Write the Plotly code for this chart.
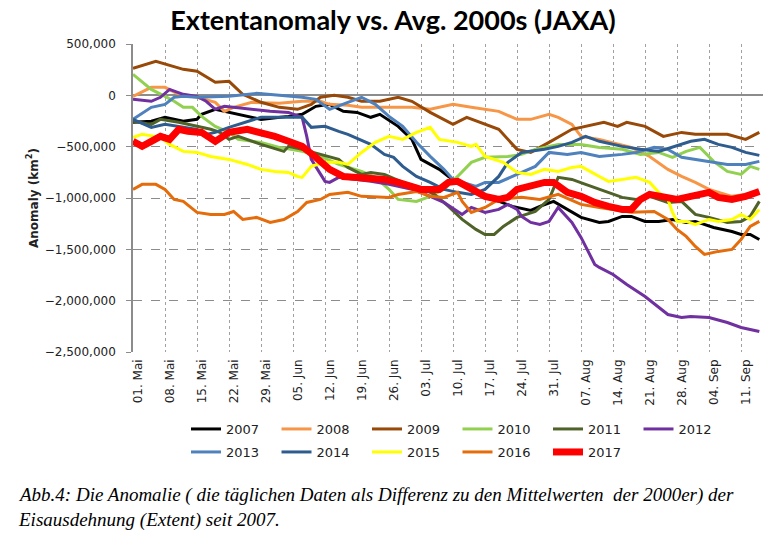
import plotly.graph_objects as go

# ---------------- data (day offset from 01 May, anomaly in km²) ----------------
years = ["2007", "2008", "2009", "2010", "2011", "2012",
         "2013", "2014", "2015", "2016", "2017"]

d2007 = [0,4,7,11,14,15,18,20,23,28,34,37,40,43,46,49,52,54,58,61,63,67,69,73,76,79,83,87,89,92,95,98,102,104,107,109,112,115,118,121,123,127,131,133,135,137]
v2007 = [-263000,-253000,-214000,-253000,-234000,-185000,-136000,-156000,-185000,-234000,-205000,-185000,-107000,-88000,-156000,-166000,-214000,-185000,-302000,-429000,-624000,-721000,-790000,-897000,-965000,-1013000,-1082000,-1121000,-1082000,-1033000,-1111000,-1189000,-1238000,-1228000,-1179000,-1179000,-1228000,-1228000,-1209000,-1238000,-1228000,-1287000,-1326000,-1355000,-1355000,-1404000]

d2008 = [0,4,7,10,14,18,20,22,26,32,37,41,43,47,50,54,58,61,65,70,74,80,84,87,91,93,96,98,102,109,113,117,120,123,126,128,131,134,137]
v2008 = [-10000,78000,78000,10000,-19000,-68000,-156000,-117000,-68000,-78000,-58000,-58000,-88000,-97000,-117000,-117000,-117000,-117000,-136000,-88000,-117000,-156000,-234000,-234000,-185000,-214000,-283000,-400000,-429000,-507000,-595000,-721000,-790000,-848000,-916000,-945000,-984000,-965000,-945000]

d2009 = [0,5,11,14,18,21,24,28,32,36,39,41,44,47,50,54,58,61,65,70,73,76,80,84,87,91,96,103,106,108,112,116,120,123,127,130,134,137]
v2009 = [263000,331000,253000,234000,127000,136000,10000,-68000,-117000,-136000,-88000,-19000,0,-19000,-58000,-58000,-19000,-58000,-166000,-283000,-214000,-263000,-331000,-526000,-556000,-458000,-331000,-263000,-302000,-263000,-302000,-400000,-361000,-380000,-380000,-380000,-429000,-361000]

d2010 = [0,4,7,9,11,13,15,18,21,23,28,32,37,41,45,50,53,56,58,62,65,68,71,74,77,80,82,85,88,91,93,98,102,107,111,115,118,121,124,127,130,133,135,137]
v2010 = [205000,58000,-10000,-58000,-117000,-117000,-205000,-302000,-361000,-429000,-458000,-507000,-546000,-595000,-673000,-741000,-799000,-916000,-1014000,-1033000,-984000,-916000,-790000,-653000,-604000,-595000,-595000,-575000,-526000,-497000,-478000,-478000,-507000,-526000,-575000,-556000,-604000,-546000,-507000,-643000,-741000,-770000,-692000,-721000]

d2011 = [0,4,6,10,14,17,19,21,23,28,33,34,37,41,45,47,50,52,55,59,62,66,69,72,75,77,79,81,84,88,91,93,96,99,104,107,110,113,117,120,123,126,130,133,135,137]
v2011 = [-253000,-283000,-234000,-263000,-302000,-331000,-361000,-429000,-400000,-478000,-546000,-497000,-526000,-575000,-624000,-702000,-770000,-751000,-770000,-848000,-887000,-965000,-1082000,-1209000,-1306000,-1355000,-1355000,-1277000,-1189000,-1131000,-1014000,-799000,-819000,-867000,-945000,-994000,-1014000,-984000,-1043000,-1033000,-1160000,-1189000,-1238000,-1228000,-1179000,-1033000]

d2012 = [0,4,6,8,11,14,16,18,20,22,26,30,34,37,38,39,42,43,45,49,52,56,61,64,68,72,74,77,80,82,84,85,87,89,91,93,96,98,101,102,105,108,112,117,120,122,126,130,133,137]
v2012 = [-39000,-58000,-19000,58000,10000,-10000,-58000,-136000,-107000,-117000,-136000,-156000,-166000,-214000,-400000,-624000,-838000,-848000,-799000,-819000,-838000,-867000,-916000,-965000,-1043000,-1160000,-1092000,-1140000,-1111000,-1062000,-1111000,-1179000,-1238000,-1257000,-1228000,-1092000,-1238000,-1384000,-1647000,-1676000,-1745000,-1842000,-1959000,-2135000,-2164000,-2154000,-2164000,-2213000,-2261000,-2300000]

d2013 = [0,4,7,9,11,14,21,27,32,37,40,43,47,50,53,56,59,62,65,68,70,72,75,77,80,83,85,88,91,95,98,102,107,110,114,117,120,123,127,130,134,137]
v2013 = [-234000,-117000,-88000,-19000,-10000,-19000,-10000,19000,0,-19000,-39000,-136000,-68000,-19000,-88000,-205000,-302000,-458000,-595000,-721000,-819000,-848000,-887000,-848000,-848000,-790000,-751000,-692000,-556000,-575000,-556000,-595000,-575000,-556000,-507000,-526000,-604000,-624000,-653000,-673000,-673000,-643000]

d2014 = [0,4,7,10,14,16,18,21,25,28,34,37,39,42,45,47,52,55,57,59,62,65,68,71,74,77,80,82,85,87,90,93,96,99,102,107,111,115,118,122,125,128,131,134,137]
v2014 = [-234000,-312000,-283000,-302000,-331000,-380000,-361000,-312000,-253000,-214000,-214000,-214000,-312000,-302000,-351000,-380000,-478000,-575000,-604000,-692000,-790000,-848000,-916000,-945000,-965000,-916000,-790000,-653000,-556000,-546000,-526000,-497000,-458000,-400000,-448000,-497000,-526000,-546000,-507000,-448000,-429000,-478000,-507000,-556000,-585000]

d2015 = [0,2,6,8,11,14,17,21,25,28,31,34,36,37,39,42,45,47,50,53,56,59,62,65,67,71,74,75,77,81,84,87,90,93,96,98,102,104,107,110,113,115,117,118,119,121,123,126,128,131,133,135,137]
v2015 = [-409000,-380000,-409000,-478000,-546000,-556000,-595000,-624000,-673000,-721000,-741000,-751000,-790000,-799000,-692000,-653000,-653000,-673000,-556000,-458000,-400000,-429000,-361000,-312000,-429000,-458000,-497000,-478000,-595000,-653000,-751000,-770000,-721000,-741000,-702000,-692000,-790000,-838000,-819000,-799000,-848000,-945000,-1014000,-1140000,-1228000,-1228000,-1257000,-1209000,-1228000,-1209000,-1160000,-1209000,-1111000]

d2016 = [0,2,5,7,9,11,14,17,20,22,24,27,30,33,36,38,41,43,47,50,56,58,62,65,68,71,72,74,77,80,85,89,93,98,102,107,109,114,117,119,121,123,125,128,131,133,135,137]
v2016 = [-916000,-867000,-867000,-916000,-1014000,-1033000,-1140000,-1160000,-1160000,-1131000,-1209000,-1189000,-1238000,-1209000,-1131000,-1043000,-1014000,-965000,-945000,-984000,-994000,-965000,-936000,-984000,-994000,-945000,-1033000,-1140000,-1092000,-1014000,-994000,-1014000,-965000,-1062000,-1092000,-1131000,-1140000,-1131000,-1209000,-1306000,-1374000,-1472000,-1550000,-1520000,-1501000,-1404000,-1277000,-1228000]

d2017 = [0,2,4,6,8,10,12,15,18,21,25,28,31,34,37,40,43,46,49,52,55,58,61,63,67,69,71,74,77,80,82,84,87,90,92,95,98,101,104,107,109,111,113,116,119,122,126,128,131,134,137]
v2017 = [-448000,-497000,-448000,-400000,-429000,-331000,-351000,-361000,-448000,-361000,-331000,-361000,-400000,-448000,-497000,-604000,-721000,-790000,-799000,-799000,-819000,-848000,-887000,-916000,-916000,-848000,-838000,-916000,-984000,-1014000,-994000,-916000,-887000,-848000,-848000,-945000,-984000,-1043000,-1082000,-1111000,-1111000,-1014000,-965000,-994000,-1014000,-984000,-945000,-994000,-1014000,-984000,-936000]

tick_days = [0, 7, 14, 21, 28, 35, 42, 49, 56, 63, 70, 77, 84, 91, 98, 105, 112, 119, 126, 133]
tick_labels = ["01. Mai", "08. Mai", "15. Mai", "22. Mai", "29. Mai", "05. Jun", "12. Jun",
               "19. Jun", "26. Jun", "03. Jul", "10. Jul", "17. Jul", "24. Jul", "31. Jul",
               "07. Aug", "14. Aug", "21. Aug", "28. Aug", "04. Sep", "11. Sep"]
y_ticks = [500000, 0, -500000, -1000000, -1500000, -2000000, -2500000]

# ---------------- styles ----------------
colors = {"2007": "#000000", "2008": "#F79646", "2009": "#984807", "2010": "#92D050",
          "2011": "#4F6228", "2012": "#7030A0", "2013": "#4F81BD", "2014": "#2E5C8E",
          "2015": "#FFFF00", "2016": "#E46C0A", "2017": "#FF0000"}
widths = {y: 3 for y in years}
widths["2017"] = 7

series = {"2007": (d2007, v2007), "2008": (d2008, v2008), "2009": (d2009, v2009),
          "2010": (d2010, v2010), "2011": (d2011, v2011), "2012": (d2012, v2012),
          "2013": (d2013, v2013), "2014": (d2014, v2014), "2015": (d2015, v2015),
          "2016": (d2016, v2016), "2017": (d2017, v2017)}

fig = go.Figure()
for i, y in enumerate(years):
    dx, vy = series[y]
    fig.add_trace(go.Scatter(
        x=dx, y=vy, mode="lines", name=y,
        line=dict(color=colors[y], width=widths[y]),
        legend="legend" if i < 6 else "legend2",
    ))

font_axis = "DejaVu Sans"

fig.update_layout(
    width=777, height=546,
    margin=dict(l=133, r=14, t=44, b=194),
    paper_bgcolor="white", plot_bgcolor="white",
    title=dict(text="<b>Extentanomaly vs. Avg. 2000s (JAXA)</b>",
               font=dict(family="Lato", size=27, color="#000000"),
               x=393 / 777, xanchor="center", xref="container",
               y=1 - 21 / 546, yanchor="middle", yref="container"),
    xaxis=dict(range=[0, 137.8], tickvals=tick_days, ticktext=tick_labels,
               tickangle=-90, showgrid=True, gridcolor="#A0A0A0", griddash="dot",
               gridwidth=1, zeroline=False, showline=False, ticks="",
               ticklabelshift=5, ticklabelstandoff=4,
               tickfont=dict(family=font_axis, size=12, color="#222222")),
    yaxis=dict(range=[-2500000, 500000], tickvals=y_ticks, tickformat=",d",
               showgrid=True, gridcolor="#8C8C8C", griddash="dash", gridwidth=1,
               zeroline=True, zerolinecolor="#8C8C8C", zerolinewidth=2,
               showline=True, linecolor="#8C8C8C", linewidth=1.5,
               ticks="outside", ticklen=5, tickcolor="#8C8C8C",
               ticklabelstandoff=8,
               tickfont=dict(family=font_axis, size=12, color="#222222"),
               title=dict(text="<b>Anomaly (km<sup>2</sup>)</b>", standoff=4,
                          font=dict(family=font_axis, size=12, color="#222222"))),
    legend=dict(orientation="h", x=(186 - 133) / 630, xanchor="left",
                y=(352 - 429) / 308, yanchor="middle",
                entrywidth=45.5, entrywidthmode="pixels",
                font=dict(family=font_axis, size=13, color="#222222"),
                bgcolor="rgba(0,0,0,0)"),
    legend2=dict(orientation="h", x=(186 - 133) / 630, xanchor="left",
                 y=(352 - 452) / 308, yanchor="middle",
                 entrywidth=45.5, entrywidthmode="pixels",
                 font=dict(family=font_axis, size=13, color="#222222"),
                 bgcolor="rgba(0,0,0,0)"),
    showlegend=True,
)

cap1 = "Abb.4: Die Anomalie ( die täglichen Daten als Differenz zu den Mittelwerten  der 2000er) der"
cap2 = "Eisausdehnung (Extent) seit 2007."
for txt, ybase in [(cap1, 495), (cap2, 520)]:
    fig.add_annotation(text="<i>" + txt + "</i>", xref="paper", yref="paper",
                       x=(16 - 133) / 630, xanchor="left",
                       y=(352 - ybase) / 308, yanchor="middle",
                       showarrow=False,
                       font=dict(family="Liberation Serif", size=19, color="#000000"))

fig.write_html("out.html")
